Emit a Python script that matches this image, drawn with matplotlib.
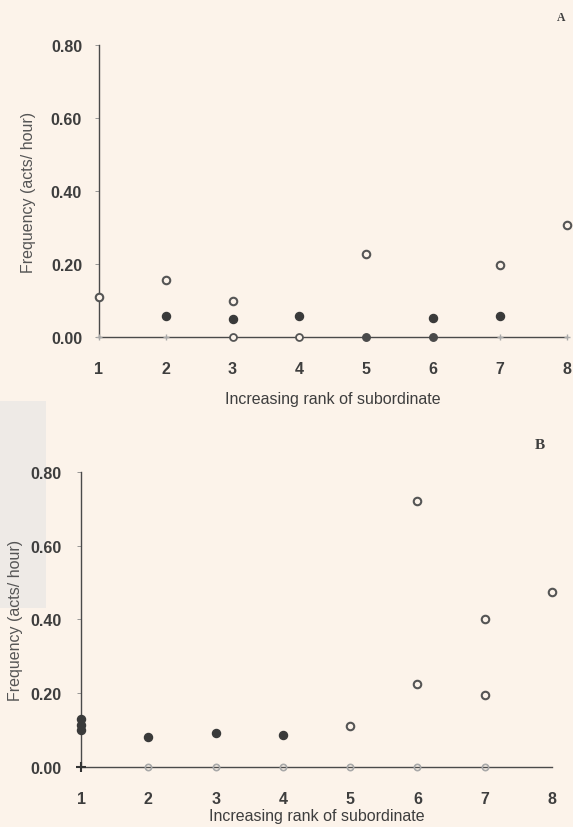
import matplotlib
matplotlib.use("Agg")
import matplotlib.pyplot as plt
from matplotlib.patches import Rectangle

# rank of subordinate on the x axis
ranks = [1, 2, 3, 4, 5, 6, 7, 8]
yticks = [0.0, 0.2, 0.4, 0.6, 0.8]

# panel A
a_open_x = [1, 2, 3, 5, 7, 8]
a_open_y = [0.11, 0.155, 0.098, 0.227, 0.196, 0.307]
a_fill_x = [2, 3, 4, 6, 7]
a_fill_y = [0.057, 0.050, 0.057, 0.052, 0.058]
a_zero_open = [3, 4]
a_zero_fill = [5, 6]
a_zero_faint = [1, 2, 7, 8]

# panel B
b_open_x = [5, 6, 6, 7, 7, 8]
b_open_y = [0.111, 0.72, 0.225, 0.40, 0.195, 0.475]
b_fill_x = [1, 1, 1, 2, 3, 4]
b_fill_y = [0.100, 0.115, 0.130, 0.082, 0.093, 0.086]
b_zero_faint = [2, 3, 4, 5, 6, 7]

BG = "#fcf3ea"
INK = "#3e3e3e"

plt.rcParams['font.family'] = ['Liberation Sans', 'DejaVu Sans']

fig = plt.figure(figsize=(5.73, 8.28), dpi=100, facecolor=BG)

# scanned page shading at the left edge (kept behind everything)
fig.add_artist(Rectangle((0, 0.265), 0.08, 0.25, transform=fig.transFigure,
                         facecolor="#eeeae6", edgecolor="none", zorder=-5))


def style_axes(ax, ypad, xlab_y, ylab_x):
    ax.set_facecolor("none")
    ax.set_xlim(1, 8)
    ax.set_ylim(0, 0.8)
    for s in ["top", "right"]:
        ax.spines[s].set_visible(False)
    for s in ["left", "bottom"]:
        ax.spines[s].set_color("#4a4a4a")
        ax.spines[s].set_linewidth(1.0)
    ax.set_xticks(ranks)
    ax.set_xticklabels([str(r) for r in ranks], fontsize=11.5, fontweight="bold", color=INK)
    ax.set_yticks(yticks)
    ax.set_yticklabels(["%.2f" % v for v in yticks], fontsize=11.5, fontweight="bold", color=INK)
    ax.tick_params(axis="y", length=3, width=0.6, color="#888888", pad=ypad)
    ax.tick_params(axis="x", length=0, pad=17)
    ax.set_xlabel("Increasing rank of subordinate", fontsize=11.5, color=INK)
    ax.set_ylabel("Frequency (acts/ hour)", fontsize=11.5, color="#555555")
    ax.xaxis.set_label_coords(0.5, xlab_y)
    ax.xaxis.label.set_va("center")
    ax.yaxis.set_label_coords(ylab_x, 0.5)
    ax.yaxis.label.set_va("center")


def draw_points(ax, ox, oy, fx, fy):
    ax.plot(ox, oy, linestyle="none", marker="o", markersize=5.4, markerfacecolor=BG,
            markeredgecolor="#555555", markeredgewidth=1.5, clip_on=False, zorder=4)
    ax.plot(fx, fy, linestyle="none", marker="o", markersize=5.8, markerfacecolor="#3a3a3a",
            markeredgecolor="#3a3a3a", clip_on=False, zorder=4)


# ---- panel A ----
axA = fig.add_axes([0.1723, 0.5918, 0.8172, 0.3527])
style_axes(axA, ypad=9, xlab_y=-0.209, ylab_x=-0.15)
draw_points(axA, a_open_x, a_open_y, a_fill_x, a_fill_y)
axA.plot(a_zero_open, [0] * len(a_zero_open), linestyle="none", marker="o", markersize=5,
         markerfacecolor=BG, markeredgecolor="#555555", markeredgewidth=1.3, clip_on=False, zorder=4)
axA.plot(a_zero_fill, [0] * len(a_zero_fill), linestyle="none", marker="o", markersize=5.4,
         color="#4a4a4a", clip_on=False, zorder=4)
axA.plot(a_zero_faint, [0] * len(a_zero_faint), linestyle="none", marker="+", markersize=5,
         color="#aaaaaa", markeredgewidth=1.0, clip_on=False, zorder=3)
fig.text(561 / 573, 1 - 18 / 828, "A", fontsize=8.5, fontweight="bold", family="Liberation Serif",
         color=INK, ha="center", va="center")

# ---- panel B ----
axB = fig.add_axes([0.1414, 0.0725, 0.822, 0.3563])
style_axes(axB, ypad=11, xlab_y=-0.163, ylab_x=-0.140)
draw_points(axB, b_open_x, b_open_y, b_fill_x, b_fill_y)
axB.plot(b_zero_faint, [0] * len(b_zero_faint), linestyle="none", marker="o", markersize=4.5,
         markerfacecolor="none", markeredgecolor="#a8a8a8", markeredgewidth=1.2, clip_on=False, zorder=3)
axB.plot([1], [0], linestyle="none", marker="+", markersize=7, color="#333333",
         markeredgewidth=1.5, clip_on=False, zorder=4)
fig.text(540 / 573, 1 - 446 / 828, "B", fontsize=11, fontweight="bold", family="Liberation Serif",
         color=INK, ha="center", va="center")

fig.savefig("out.png", dpi=100, facecolor=BG)
